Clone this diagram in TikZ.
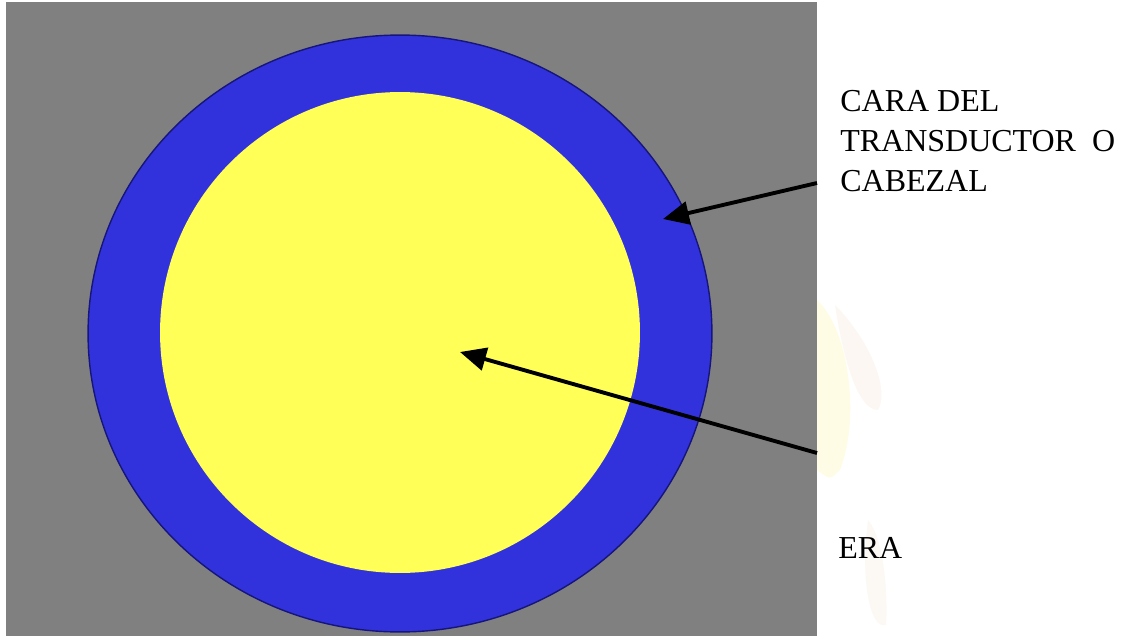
\documentclass[tikz,border=0pt]{standalone}
\usepackage{fontspec}
\setmainfont{Liberation Serif}
\usepackage{tikz}
\usetikzlibrary{arrows.meta,positioning,shapes.geometric}
\definecolor{probeGray}{HTML}{808080}
\definecolor{probeBlue}{HTML}{3232DC}
\definecolor{probeEdge}{HTML}{15157A}
\definecolor{probeYellow}{HTML}{FFFF58}
\definecolor{probeInk}{HTML}{000000}
\definecolor{ghostCream}{HTML}{FFFCE6}
\definecolor{ghostPeach}{HTML}{F7EBE0}
\tikzset{
    >=Latex,
    ring/.style={ellipse, draw=probeEdge, line width=0.8pt, fill=probeBlue, inner sep=0pt},
    core/.style={ellipse, fill=probeYellow, inner sep=0pt},
    label/.style={font=\fontsize{18.2}{22.7}\selectfont, text=probeInk, align=left, inner sep=0pt},
    pointer/.style={-{Triangle[length=0.52cm,width=0.46cm]}, line width=2.2pt, draw=probeInk}
}
\begin{document}
\begin{tikzpicture}[x=0.02cm,y=-0.02cm]
\useasboundingbox (0,0) rectangle (1129,636);
\fill[probeGray] (6,2) rectangle (817,636);
\fill[ghostCream] (817,300) .. controls (850,330) and (860,420) .. (840,470) .. controls (830,480) .. (817,470) -- cycle;
\fill[ghostPeach, opacity=0.4] (835,305) .. controls (870,340) and (890,390) .. (878,410) .. controls (860,410) and (845,370) .. (835,305) -- cycle;
\fill[ghostPeach, opacity=0.35] (868,520) .. controls (885,540) and (888,600) .. (886,625) .. controls (870,630) and (860,580) .. (868,520) -- cycle;
\node[ring, minimum width=12.48cm, minimum height=11.94cm] (cabezal) at (400,333.5) {};
\node[core, minimum width=9.6cm, minimum height=9.62cm] (era) at (400,332.5) {};
\node[label, anchor=north west] (caralbl) at (840,90) {CARA DEL\\TRANSDUCTOR\ \ O\\CABEZAL};
\node[label, anchor=north west] (eralbl) at (838,537) {ERA};
\coordinate (tail1) at (817,183);
\coordinate (tip1) at (663,219);
\coordinate (tail2) at (817,453);
\coordinate (tip2) at (460,352);
\draw[pointer] (tail1) -- (tip1);
\draw[pointer] (tail2) -- (tip2);
\end{tikzpicture}
\end{document}
